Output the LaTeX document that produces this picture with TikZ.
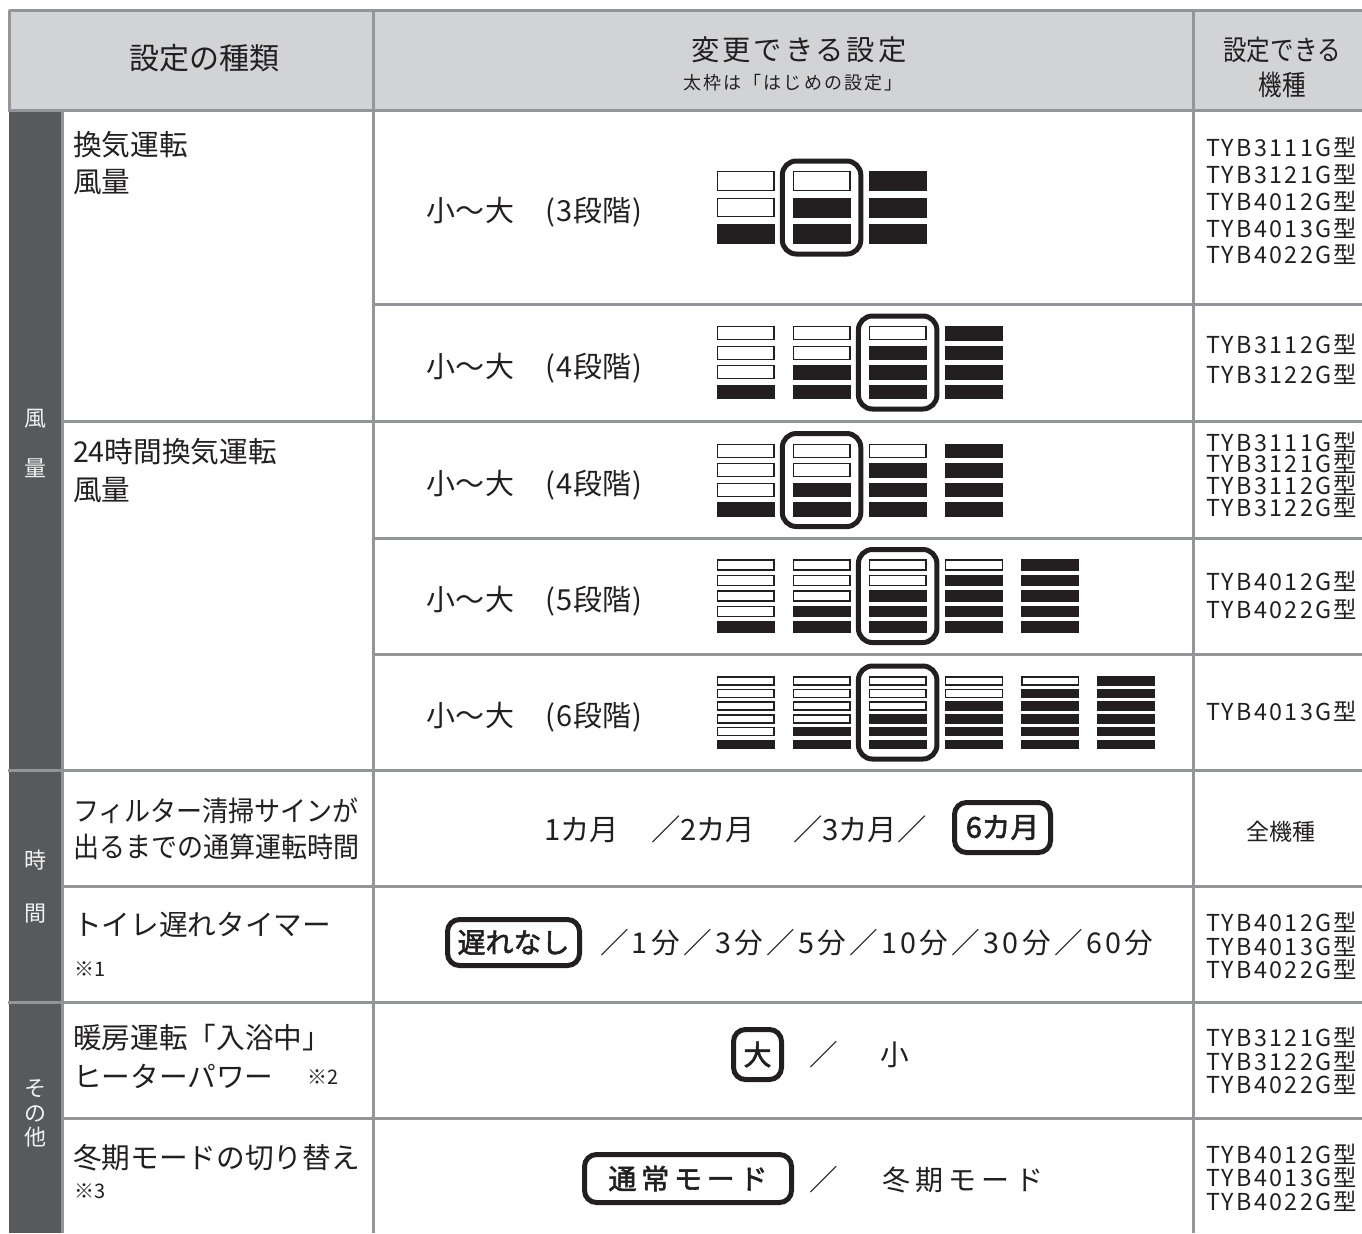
\documentclass[tikz,border=0pt]{standalone}
\usepackage{fontspec}
\setmainfont{Noto Sans CJK JP}
\newfontfamily\modelfont[LetterSpace=10]{Noto Sans CJK JP}
\newfontfamily\headfont[LetterSpace=10]{Noto Sans CJK JP}
\newfontfamily\subheadfont[LetterSpace=12]{Noto Sans CJK JP}
\newfontfamily\modefont[LetterSpace=19]{Noto Sans CJK JP}
\newfontfamily\modeboldfont[LetterSpace=17,FakeBold=2]{Noto Sans CJK JP}
\newfontfamily\boldfont[FakeBold=2]{Noto Sans CJK JP}
\newfontfamily\slashfont[LetterSpace=11.5]{Noto Sans CJK JP}
\newfontfamily\levelfont[LetterSpace=3]{Noto Sans CJK JP}
\newfontfamily\condfont[FakeStretch=0.84]{Noto Sans CJK JP}
\newfontfamily\narrowfont[FakeStretch=0.93]{Noto Sans CJK JP}
\definecolor{ink}{HTML}{231F20}
\definecolor{linegray}{HTML}{939598}
\definecolor{headfill}{HTML}{D1D3D4}
\definecolor{darkcol}{HTML}{58595B}
\definecolor{darktext}{HTML}{F2F2F2}
\newcommand\fsz[1]{\fontsize{#1}{#1}\selectfont}
% fan bars: center y, levels, bar height, pitch, highlighted column
\newcommand\fanbars[5]{%
  \pgfmathsetmacro\fbtop{#1-((#2-1)*#4+#3)/2}%
  \foreach \k in {1,...,#2}{%
    \pgfmathsetmacro\fbx{716.7+76.1*(\k-1)}%
    \pgfmathtruncatemacro\fbthr{#2-\k}%
    \foreach \j in {1,...,#2}{%
      \pgfmathsetmacro\fby{\fbtop+(\j-1)*#4}%
      \ifnum\j>\fbthr\relax
        \fill[ink] (\fbx,\fby) rectangle ++(58,#3);
      \else
        \draw[whitebar] ({\fbx+0.75},{\fby+0.75}) rectangle ++(56.5,{#3-1.5});
      \fi
    }%
  }%
  \pgfmathsetmacro\fbhx{716.7+76.1*(#5-1)-10.5}%
  \draw[hlbox] (\fbhx,{#1-46.5}) rectangle ++(78.5,93);
}
\begin{document}
\begin{tikzpicture}[x=0.75pt,y=-0.75pt,
  txt/.style={inner sep=0pt,outer sep=0pt,text=ink},
  body/.style={txt,font=\fsz{21.5}},
  level/.style={txt,font=\levelfont\fsz{21.75},anchor=base west},
  small/.style={txt,font=\fsz{15}},
  model/.style={txt,font=\modelfont\fsz{17.5},anchor=base west},
  darklbl/.style={inner sep=0pt,outer sep=0pt,text=darktext,font=\fsz{16.5},anchor=base},
  grid/.style={draw=linegray,line width=2.25pt},
  selbox/.style={draw=ink,line width=3.75pt,rounded corners=9pt,inner sep=0pt,text=ink,fill=white},
  hlbox/.style={draw=ink,line width=3.75pt,rounded corners=10.5pt},
  whitebar/.style={draw=ink,line width=1.1pt,fill=white}]
\useasboundingbox (0,0) rectangle (1362,1233);
\clip (0,0) rectangle (1362,1233);
\fill[white] (0,0) rectangle (1362,1233);
% fills
\fill[headfill] (9,10) rectangle (1362,110);
\fill[darkcol] (8.5,110) rectangle (61,1233);
% fan bars
\fanbars{207.5}{3}{20}{26.5}{2}
\fanbars{362.5}{4}{14.5}{19.5}{3}
\fanbars{480}{4}{14.5}{19.5}{2}
\fanbars{596}{5}{11.5}{15.4}{3}
\fanbars{712.5}{6}{9.5}{12.7}{3}
% grid
\draw[grid] (9,10) -- (1362,10);
\draw[grid] (9,10) -- (9,110);
\draw[grid] (8,110) -- (1362,110);
\draw[grid] (62,110) -- (62,1233);
\draw[grid] (373,10) -- (373,1233);
\draw[grid] (1193,10) -- (1193,1233);
\draw[grid] (373,304) -- (1362,304);
\draw[grid] (62,421) -- (1362,421);
\draw[grid] (373,538) -- (1362,538);
\draw[grid] (373,654) -- (1362,654);
\draw[grid] (8,770) -- (1362,770);
\draw[grid] (62,886) -- (1362,886);
\draw[grid] (8,1002) -- (1362,1002);
\draw[grid] (62,1118) -- (1362,1118);
% header
\node[txt,font=\fsz{22.5},anchor=base] (h1) at (204,69) {設定の種類};
\node[txt,font=\headfont\fsz{21.25},anchor=base] (h2) at (799,60.4) {変更できる設定};
\node[txt,font=\subheadfont\fsz{13.5},anchor=base] (h2s) at (793,89.5) {太枠は「はじめの設定」};
\node[txt,font=\condfont\fsz{21},anchor=base] (h3a) at (1282,60.4) {設定できる};
\node[txt,font=\condfont\fsz{21},anchor=base] (h3b) at (1282,95.4) {機種};
% dark column labels
\node[darklbl] (g1a) at (35,426.1) {風};
\node[darklbl] (g1b) at (35,476.1) {量};
\node[darklbl] (g2a) at (35,868.1) {時};
\node[darklbl] (g2b) at (35,921.1) {間};
\node[darklbl] (g3a) at (35,1096.1) {そ};
\node[darklbl] (g3b) at (35,1121.1) {の};
\node[darklbl] (g3c) at (35,1145.1) {他};
% type column
\node[body,anchor=base west] (k1a) at (73,155.4) {換気運転};
\node[body,anchor=base west] (k1b) at (73,192.4) {風量};
\node[body,anchor=base west] (k2a) at (73,462.4) {24時間換気運転};
\node[body,anchor=base west] (k2b) at (73,500.4) {風量};
\node[txt,font=\narrowfont\fsz{21},anchor=base west] (k3a) at (73,821.4) {フィルター清掃サインが};
\node[txt,font=\narrowfont\fsz{21},anchor=base west] (k3b) at (73,857.4) {出るまでの通算運転時間};
\node[body,anchor=base west] (k4a) at (73,935.4) {トイレ遅れタイマー};
\node[small,anchor=base west] (k4b) at (74,976.4) {※1};
\node[body,anchor=base west] (k5a) at (73,1048.4) {暖房運転「入浴中」};
\node[body,anchor=base west] (k5b) at (73,1087.4) {ヒーターパワー};
\node[small,anchor=base west] (k5c) at (307,1084.4) {※2};
\node[body,anchor=base west] (k6a) at (73,1168.4) {冬期モードの切り替え};
\node[small,anchor=base west] (k6b) at (74,1198.4) {※3};
% settings column
\node[level] (s1) at (426,221.4) {小〜大　(3段階)};
\node[level] (s2) at (426,377) {小〜大　(4段階)};
\node[level] (s3) at (426,494) {小〜大　(4段階)};
\node[level] (s4) at (426,610.5) {小〜大　(5段階)};
\node[level] (s5) at (426,726.5) {小〜大　(6段階)};
\node[txt,font=\fsz{22},anchor=base west] (s6a) at (544,840.8) {1カ月};
\node[txt,font=\fsz{22},anchor=base west] (s6b) at (651,840.8) {／2カ月};
\node[txt,font=\fsz{22},anchor=base west] (s6c) at (793,840.8) {／3カ月／};
\node[selbox,font=\boldfont\fsz{21.5},minimum width=72pt,minimum height=37.5pt] (s6d) at (1002.5,827.5) {6カ月};
\node[selbox,font=\boldfont\fsz{21},minimum width=99pt,minimum height=34.5pt] (s7a) at (513.5,942.5) {遅れなし};
\node[txt,font=\slashfont\fsz{21.5},anchor=base west] (s7b) at (600,953.8) {／1分／3分／5分／10分／30分／60分};
\node[selbox,font=\boldfont\fsz{21},minimum width=36pt,minimum height=37.5pt] (s8a) at (757.5,1054.5) {大};
\node[body,anchor=base west] (s8b) at (809,1065.4) {／};
\node[body,anchor=base west] (s8c) at (880,1065.4) {小};
\node[selbox,font=\modeboldfont\fsz{21},minimum width=155.25pt,minimum height=36pt] (s9a) at (688,1178.5) {通常モード};
\node[body,anchor=base west] (s9b) at (809,1190.4) {／};
\node[txt,font=\modefont\fsz{21},anchor=base west] (s9c) at (882,1190.4) {冬期モード};
% model column
\node[model] (m1a) at (1206,156.5) {TYB3111G型};
\node[model] (m1b) at (1206,183.5) {TYB3121G型};
\node[model] (m1c) at (1206,210.5) {TYB4012G型};
\node[model] (m1d) at (1206,237.5) {TYB4013G型};
\node[model] (m1e) at (1206,263.5) {TYB4022G型};
\node[model] (m2a) at (1206,353.5) {TYB3112G型};
\node[model] (m2b) at (1206,383.5) {TYB3122G型};
\node[model] (m3a) at (1206,451.5) {TYB3111G型};
\node[model] (m3b) at (1206,472.5) {TYB3121G型};
\node[model] (m3c) at (1206,494.5) {TYB3112G型};
\node[model] (m3d) at (1206,516.5) {TYB3122G型};
\node[model] (m4a) at (1206,590.5) {TYB4012G型};
\node[model] (m4b) at (1206,618.5) {TYB4022G型};
\node[model] (m5a) at (1206,720.5) {TYB4013G型};
\node[txt,font=\fsz{17.25},anchor=base] (m6a) at (1281,840.5) {全機種};
\node[model] (m7a) at (1206,931.5) {TYB4012G型};
\node[model] (m7b) at (1206,955.5) {TYB4013G型};
\node[model] (m7c) at (1206,978.5) {TYB4022G型};
\node[model] (m8a) at (1206,1046.5) {TYB3121G型};
\node[model] (m8b) at (1206,1070.5) {TYB3122G型};
\node[model] (m8c) at (1206,1093.5) {TYB4022G型};
\node[model] (m9a) at (1206,1163.5) {TYB4012G型};
\node[model] (m9b) at (1206,1186.5) {TYB4013G型};
\node[model] (m9c) at (1206,1210.5) {TYB4022G型};
\end{tikzpicture}
\end{document}
